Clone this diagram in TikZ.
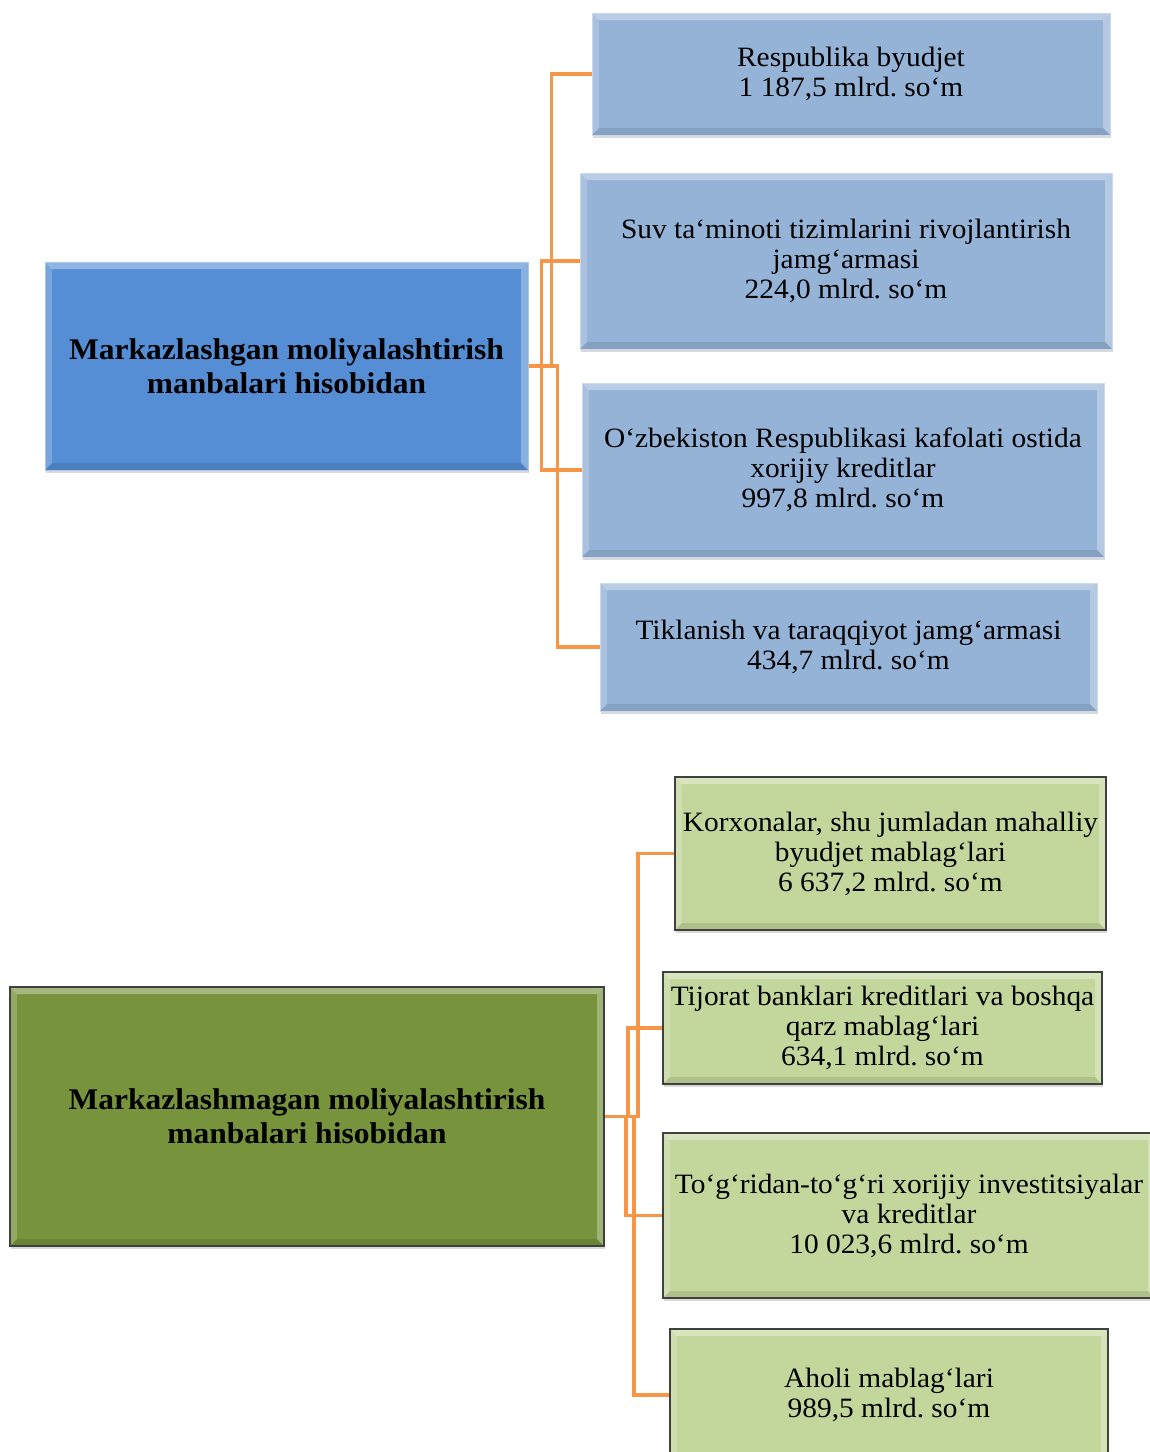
\documentclass[tikz,border=0pt]{standalone}
\usepackage{fontspec}
\setmainfont[FakeStretch=1.05]{Liberation Serif}
\usetikzlibrary{shadows}
\definecolor{headblue}{HTML}{558ED5}
\definecolor{itemblue}{HTML}{95B3D7}
\definecolor{headgreen}{HTML}{77933C}
\definecolor{itemgreen}{HTML}{C3D69B}
\definecolor{linkorange}{HTML}{F79646}
\definecolor{rimgray}{HTML}{404040}
\frenchspacing

\begin{document}
\begin{tikzpicture}[x=1pt,y=-1pt,
    bevel/.style={path picture={
        \path (path picture bounding box.north west) coordinate (nw)
              (path picture bounding box.south east) coordinate (se);
        \fill[white,opacity=.35] (nw) -- (nw-|se) -- ([shift={(-7pt,-7pt)}]nw-|se) -- ([shift={(7pt,-7pt)}]nw) -- cycle;
        \fill[white,opacity=.2] (nw) -- (nw|-se) -- ([shift={(7pt,7pt)}]nw|-se) -- ([shift={(7pt,-7pt)}]nw) -- cycle;
        \fill[white,opacity=.3] (se) -- (nw-|se) -- ([shift={(-7pt,-7pt)}]nw-|se) -- ([shift={(-7pt,7pt)}]se) -- cycle;
        \fill[black,opacity=.1] (se) -- (nw|-se) -- ([shift={(7pt,7pt)}]nw|-se) -- ([shift={(-7pt,7pt)}]se) -- cycle;}},
    box/.style={rectangle,inner sep=0pt,align=center,bevel,
        font=\fontsize{28}{30}\selectfont,
        drop shadow={opacity=.3,shadow xshift=1pt,shadow yshift=-3pt}},
    head/.style={box,font=\fontsize{30}{34}\selectfont\bfseries},
    blue/.style={fill=itemblue,draw=itemblue!50!white,line width=1pt},
    green/.style={fill=itemgreen,draw=rimgray,line width=2pt},
    link/.style={linkorange,line width=3.5pt}]
\useasboundingbox (0,0) rectangle (1150,1452);

\node[head,fill=headblue,draw=headblue!50!white,line width=1pt,minimum width=483pt,minimum height=208pt] (central) at (286.5,366)
    {Markazlashgan moliyalashtirish\\manbalari hisobidan};
\node[box,blue,minimum width=518pt,minimum height=122pt] (resp) at (851,74)
    {Respublika byudjet\\1 187,5 mlrd. so‘m};
\node[box,blue,minimum width=532pt,minimum height=176pt] (suv) at (846,261)
    {Suv ta‘minoti tizimlarini rivojlantirish\\jamg‘armasi\\224,0 mlrd. so‘m};
\node[box,blue,minimum width=522pt,minimum height=174pt] (kafolat) at (843,470)
    {O‘zbekiston Respublikasi kafolati ostida\\xorijiy kreditlar\\997,8 mlrd. so‘m};
\node[box,blue,minimum width=497pt,minimum height=128pt] (tiklanish) at (848.5,647)
    {Tiklanish va taraqqiyot jamg‘armasi\\434,7 mlrd. so‘m};

\node[head,fill=headgreen,draw=rimgray,line width=2pt,minimum width=594pt,minimum height=259pt] (local) at (307,1116.5)
    {Markazlashmagan moliyalashtirish\\manbalari hisobidan};
\node[box,green,minimum width=431pt,minimum height=153pt] (korxona) at (890.5,853.5)
    {Korxonalar, shu jumladan mahalliy\\byudjet mablag‘lari\\6 637,2 mlrd. so‘m};
\node[box,green,minimum width=439pt,minimum height=112pt] (tijorat) at (882.5,1028)
    {Tijorat banklari kreditlari va boshqa\\qarz mablag‘lari\\634,1 mlrd. so‘m};
\node[box,green,minimum width=492pt,minimum height=165pt] (invest) at (909,1215.5)
    {To‘g‘ridan-to‘g‘ri xorijiy investitsiyalar\\va kreditlar\\10 023,6 mlrd. so‘m};
\node[box,green,minimum width=438pt,minimum height=132pt] (aholi) at (889,1395)
    {Aholi mablag‘lari\\989,5 mlrd. so‘m};

\draw[link] (central.east) -- ++(23,0) |- (resp.west);
\draw[link] (central.east) -- ++(13,0) |- (suv.west);
\draw[link] (central.east) -- ++(13,0) |- (kafolat.west);
\draw[link] (central.east) -- ++(29,0) |- (tiklanish.west);

\draw[link] (local.east) -- ++(33,0) |- (korxona.west);
\draw[link] (local.east) -- ++(23,0) |- (tijorat.west);
\draw[link] (local.east) -- ++(21,0) |- (invest.west);
\draw[link] (local.east) -- ++(29,0) |- (aholi.west);
\end{tikzpicture}
\end{document}
